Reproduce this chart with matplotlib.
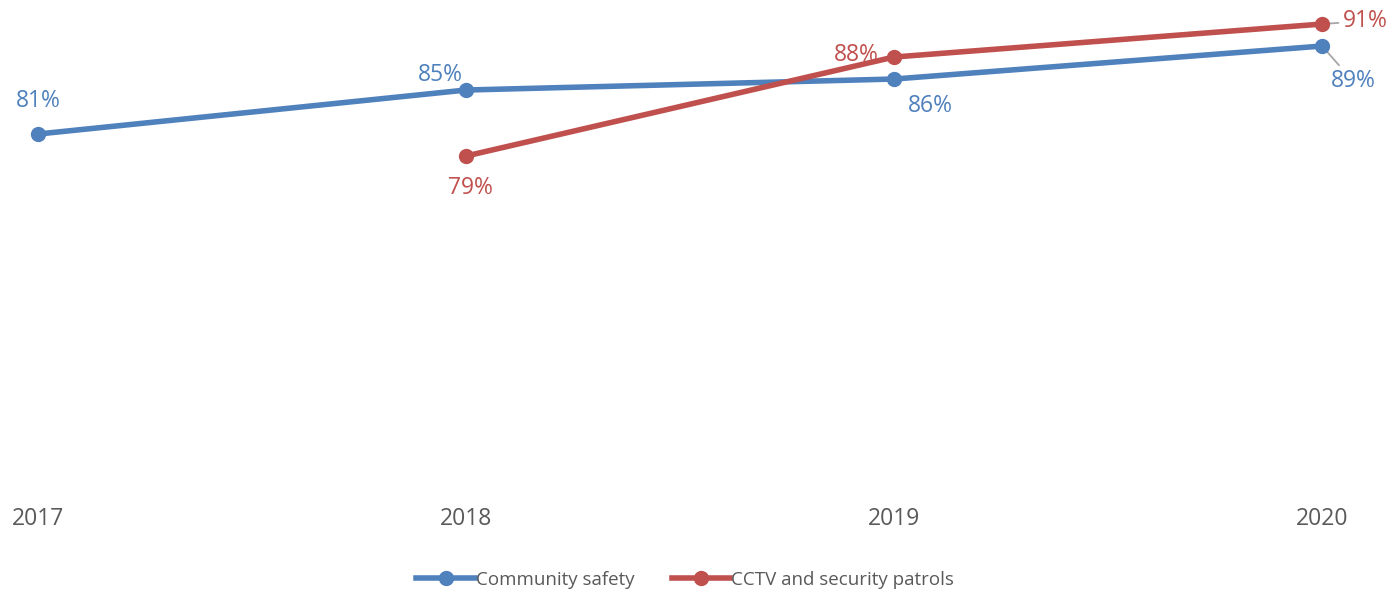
import matplotlib
matplotlib.use("Agg")
import matplotlib.pyplot as plt

years = [2017, 2018, 2019, 2020]
community = [81, 85, 86, 89]
cctv_years = [2018, 2019, 2020]
cctv = [79, 88, 91]

BLUE = "#4F81BD"
RED = "#C0504D"
GREY = "#595959"
LEADER = "#A6A6A6"

plt.rcParams["font.family"] = ["Open Sans", "DejaVu Sans"]

W, H = 1399, 593
fig = plt.figure(figsize=(W / 100, H / 100), dpi=100)
# axes spans pixel x 38..1322, y 5..490 (from top)
ax = fig.add_axes([38 / W, 1 - 490 / H, (1322 - 38) / W, (490 - 5) / H])
ax.set_xlim(2017, 2020)
ax.set_ylim(48.64, 92.73)

l1, = ax.plot(years, community, color=BLUE, lw=4, marker="o", ms=10,
              clip_on=False, label="Community safety", zorder=3)
l2, = ax.plot(cctv_years, cctv, color=RED, lw=4, marker="o", ms=10,
              clip_on=False, label="CCTV and security patrols", zorder=4)

for s in ax.spines.values():
    s.set_visible(False)
ax.set_yticks([])
ax.set_xticks(years)
ax.set_xticklabels([str(y) for y in years], fontsize=16.5, color=GREY)
ax.tick_params(axis="x", length=0, pad=12)

fs = 16.5


def label(x, y, txt, dx, dy, color, leader=False):
    kw = {}
    if leader:
        kw["arrowprops"] = dict(arrowstyle="-", color=LEADER, lw=1.3,
                                shrinkA=1, shrinkB=3)
    ax.annotate(txt, (x, y), xytext=(dx, dy), textcoords="offset pixels",
                ha="center", va="center", fontsize=fs, color=color,
                zorder=2, **kw)


# community safety labels (pixel offsets)
label(2017, 81, "81%", 0, 33, BLUE)
label(2018, 85, "85%", -26, 15, BLUE)
label(2019, 86, "86%", 36, -27, BLUE)
label(2020, 89, "89%", 31, -35, BLUE, leader=True)
# cctv labels
label(2018, 79, "79%", 4, -32, RED)
label(2019, 88, "88%", -38, 2, RED)
label(2020, 91, "91%", 43, 3, RED, leader=True)

fig.legend(handles=[l1, l2], loc="center", bbox_to_anchor=(685 / W, 1 - 580 / H),
           ncol=2, frameon=False, fontsize=13.5, handlelength=3.1,
           handletextpad=0.05, columnspacing=2.0, labelcolor=GREY)

fig.savefig("out.png", dpi=100)
